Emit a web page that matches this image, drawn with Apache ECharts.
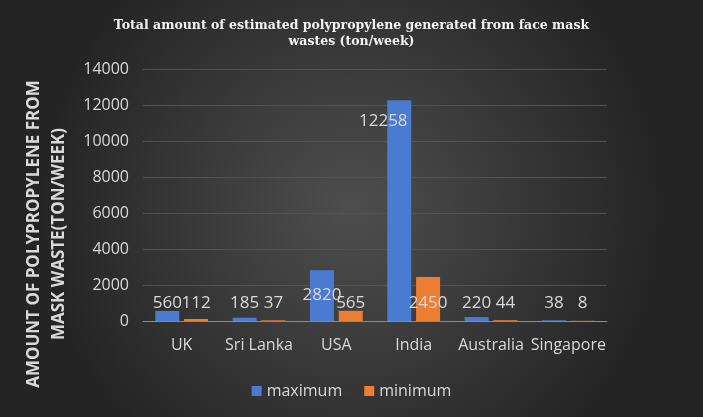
<!DOCTYPE html>
<html>
<head>
<meta charset="utf-8">
<script src="https://cdn.jsdelivr.net/npm/echarts@6/dist/echarts.min.js"></script>
<style>
  html, body { margin: 0; padding: 0; background: #333; }
  #chart { width: 703px; height: 417px; }
</style>
</head>
<body>
<div id="chart"></div>
<script>
// data
const countries = ['UK', 'Sri Lanka', 'USA', 'India', 'Australia', 'Singapore']
const maximum = [560, 185, 2820, 12258, 220, 38]
const minimum = [112, 37, 565, 2450, 44, 8]
const yTicks = { min: 0, max: 14000, interval: 2000 }

const labelColor = '#d9d9d9'
const font = '"Open Sans", "Noto Sans", sans-serif'

const chart = echarts.init(document.getElementById('chart'))

/* labels sit near the bar base, except the tall India one */
const maxData = maximum.map((v, i) => {
  if (countries[i] === 'India') {
    return { value: v, label: { position: 'insideTop', distance: 12, offset: [-16, 0] } }
  }
  if (countries[i] === 'USA') {
    return { value: v, label: { distance: 17 } }
  }
  return v
})

chart.setOption({
  backgroundColor: {
    type: 'radial', x: 0.5, y: 0.5, r: 0.75,
    colorStops: [
      { offset: 0, color: '#4e4e4e' },
      { offset: 1, color: '#242424' }
    ]
  },
  title: {
    text: 'Total amount of estimated polypropylene generated from face mask\nwastes (ton/week)',
    left: 'center',
    top: 13,
    textStyle: {
      color: '#f2f2f2',
      fontFamily: '"DejaVu Serif", serif',
      fontWeight: 'bold',
      fontSize: 12.5,
      lineHeight: 16
    }
  },
  legend: {
    data: ['maximum', 'minimum'],
    left: 'center',
    top: 378,
    itemWidth: 10,
    itemHeight: 10,
    itemGap: 22,
    icon: 'rect',
    textStyle: { color: labelColor, fontSize: 16, fontFamily: font }
  },
  grid: { left: 143, right: 96, top: 69, bottom: 96 },
  xAxis: {
    type: 'category',
    data: countries,
    axisTick: { show: false },
    axisLine: { lineStyle: { color: '#8c8c8c', width: 1 } },
    axisLabel: { color: labelColor, fontSize: 16, fontFamily: font, margin: 16, interval: 0 }
  },
  yAxis: {
    type: 'value',
    min: yTicks.min,
    max: yTicks.max,
    interval: yTicks.interval,
    axisLabel: {
      color: labelColor, fontSize: 16, fontFamily: font, margin: 14,
      formatter: v => String(v)
    },
    splitLine: { lineStyle: { color: '#525252' } }
  },
  graphic: [
    {
      type: 'text',
      x: 47,
      y: 234,
      rotation: Math.PI / 2,
      style: {
        text: 'AMOUNT OF POLYPROPYLENE FROM\nMASK WASTE(TON/WEEK)',
        fill: labelColor,
        font: 'bold 17px ' + font,
        lineHeight: 25,
        align: 'center',
        verticalAlign: 'middle'
      }
    }
  ],
  series: [
    {
      name: 'maximum',
      type: 'bar',
      data: maxData,
      barWidth: 24,
      barGap: '20%',
      itemStyle: { color: '#4a7bd0' },
      label: {
        show: true,
        position: 'insideBottom',
        distance: 9,
        color: labelColor,
        fontSize: 17,
        fontFamily: font
      }
    },
    {
      name: 'minimum',
      type: 'bar',
      data: minimum,
      barWidth: 24,
      itemStyle: { color: '#ed7d31' },
      label: {
        show: true,
        position: 'insideBottom',
        distance: 9,
        color: labelColor,
        fontSize: 17,
        fontFamily: font
      }
    }
  ]
})

window.addEventListener('resize', () => chart.resize())
</script>
</body>
</html>
